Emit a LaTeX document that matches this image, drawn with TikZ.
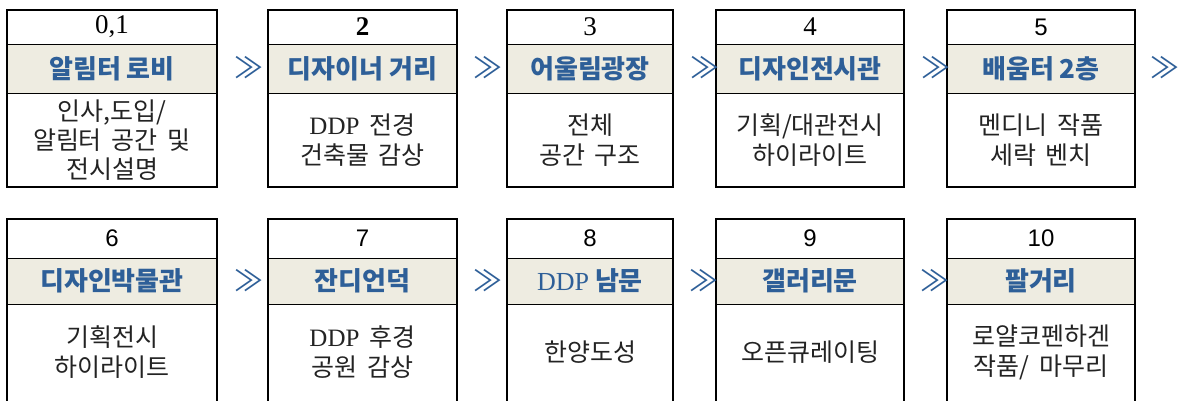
\documentclass[tikz,border=0pt]{standalone}
\usepackage{fontspec}
\usepackage{tikz}
\usetikzlibrary{positioning}
\setmainfont{Noto Sans CJK KR}
\newfontfamily\numserif{Liberation Serif}
\newfontfamily\numsans{Liberation Sans}
\newfontfamily\ddpfont{Liberation Serif}
\definecolor{spotblue}{RGB}{46,95,152}
\definecolor{spotback}{RGB}{238,236,225}
\definecolor{spotink}{RGB}{35,35,35}
\newcommand\widegap{\spaceskip=0.4em\relax}

\tikzset{
  numcell/.style={inner sep=0pt, outer sep=0pt, minimum height=34pt,
    font=\numsans\fontsize{24}{26}\selectfont},
  serifnum/.style={font=\numserif\fontsize{27}{28}\selectfont},
  titlecell/.style={draw=black, line width=0.9pt, fill=spotback, inner sep=0pt,
    outer sep=0pt, minimum height=49pt, text=spotblue,
    font=\bfseries\fontsize{26}{28}\selectfont},
  bodycell/.style={inner sep=0pt, outer sep=0pt, minimum height=94pt, align=center,
    text=spotink, font=\fontsize{25}{30}\selectfont\widegap},
  spotframe/.style={draw=black, line width=2.6pt},
  chev/.style={inner sep=0pt, text=spotblue, font=\fontsize{29}{29}\selectfont}
}

\begin{document}
\begin{tikzpicture}[x=1pt,y=-1pt]
\clip (0,0) rectangle (1179,401);

% first row
\node[numcell, serifnum, minimum width=210pt] (n1) at (112,27) {0,1};
\node[titlecell, minimum width=210pt, below=0pt of n1] (t1) {알림터 로비};
\node[bodycell, minimum width=210pt, below=0pt of t1, font=\fontsize{25}{29}\selectfont\widegap] (b1) {인사,도입/\\알림터 공간 및\\전시설명};
\draw[spotframe] (n1.north west) rectangle (b1.south east);

\node[numcell, serifnum, minimum width=189pt] (n2) at (362.5,27) {\bfseries 2};
\node[titlecell, minimum width=189pt, below=0pt of n2] (t2) {디자이너 거리};
\node[bodycell, minimum width=189pt, below=0pt of t2] (b2) {{\ddpfont DDP} 전경\\건축물 감상};
\draw[spotframe] (n2.north west) rectangle (b2.south east);

\node[numcell, serifnum, minimum width=166pt] (n3) at (590,27) {3};
\node[titlecell, minimum width=166pt, below=0pt of n3] (t3) {어울림광장};
\node[bodycell, minimum width=166pt, below=0pt of t3] (b3) {전체\\공간 구조};
\draw[spotframe] (n3.north west) rectangle (b3.south east);

\node[numcell, serifnum, minimum width=188pt] (n4) at (810,27) {4};
\node[titlecell, minimum width=188pt, below=0pt of n4] (t4) {디자인전시관};
\node[bodycell, minimum width=188pt, below=0pt of t4] (b4) {기획/대관전시\\하이라이트};
\draw[spotframe] (n4.north west) rectangle (b4.south east);

\node[numcell, minimum width=188pt] (n5) at (1041,27) {5};
\node[titlecell, minimum width=188pt, below=0pt of n5] (t5) {배움터 2층};
\node[bodycell, minimum width=188pt, below=0pt of t5] (b5) {멘디니 작품\\세락 벤치};
\draw[spotframe] (n5.north west) rectangle (b5.south east);

\node[chev] (c12) at (249,68) {≫};
\node[chev] (c23) at (488,68) {≫};
\node[chev] (c34) at (705,68) {≫};
\node[chev] (c45) at (936,68) {≫};
\node[chev] (c56) at (1165,68) {≫};

% second row
\node[numcell, minimum height=39pt, minimum width=210pt] (n6) at (112,238.5) {6};
\node[titlecell, minimum height=46pt, minimum width=210pt, below=0pt of n6] (t6) {디자인박물관};
\node[bodycell, minimum height=96pt, minimum width=210pt, below=0pt of t6] (b6) {기획전시\\하이라이트};
\draw[spotframe] (n6.north west) rectangle ([yshift=-20pt]b6.south east);

\node[numcell, minimum height=39pt, minimum width=189pt] (n7) at (362.5,238.5) {7};
\node[titlecell, minimum height=46pt, minimum width=189pt, below=0pt of n7] (t7) {잔디언덕};
\node[bodycell, minimum height=96pt, minimum width=189pt, below=0pt of t7] (b7) {{\ddpfont DDP} 후경\\공원 감상};
\draw[spotframe] (n7.north west) rectangle ([yshift=-20pt]b7.south east);

\node[numcell, minimum height=39pt, minimum width=166pt] (n8) at (590,238.5) {8};
\node[titlecell, minimum height=46pt, minimum width=166pt, below=0pt of n8] (t8) {{\ddpfont\mdseries DDP} 남문};
\node[bodycell, minimum height=96pt, minimum width=166pt, below=0pt of t8] (b8) {한양도성};
\draw[spotframe] (n8.north west) rectangle ([yshift=-20pt]b8.south east);

\node[numcell, minimum height=39pt, minimum width=188pt] (n9) at (810,238.5) {9};
\node[titlecell, minimum height=46pt, minimum width=188pt, below=0pt of n9] (t9) {갤러리문};
\node[bodycell, minimum height=96pt, minimum width=188pt, below=0pt of t9] (b9) {오픈큐레이팅};
\draw[spotframe] (n9.north west) rectangle ([yshift=-20pt]b9.south east);

\node[numcell, minimum height=39pt, minimum width=188pt] (n10) at (1041,238.5) {10};
\node[titlecell, minimum height=46pt, minimum width=188pt, below=0pt of n10] (t10) {팔거리};
\node[bodycell, minimum height=96pt, minimum width=188pt, below=0pt of t10] (b10) {로얄코펜하겐\\작품/ 마무리};
\draw[spotframe] (n10.north west) rectangle ([yshift=-20pt]b10.south east);

\node[chev] (c67) at (249,281) {≫};
\node[chev] (c78) at (488,281) {≫};
\node[chev] (c89) at (704,281) {≫};
\node[chev] (c910) at (935,281) {≫};
\end{tikzpicture}
\end{document}
